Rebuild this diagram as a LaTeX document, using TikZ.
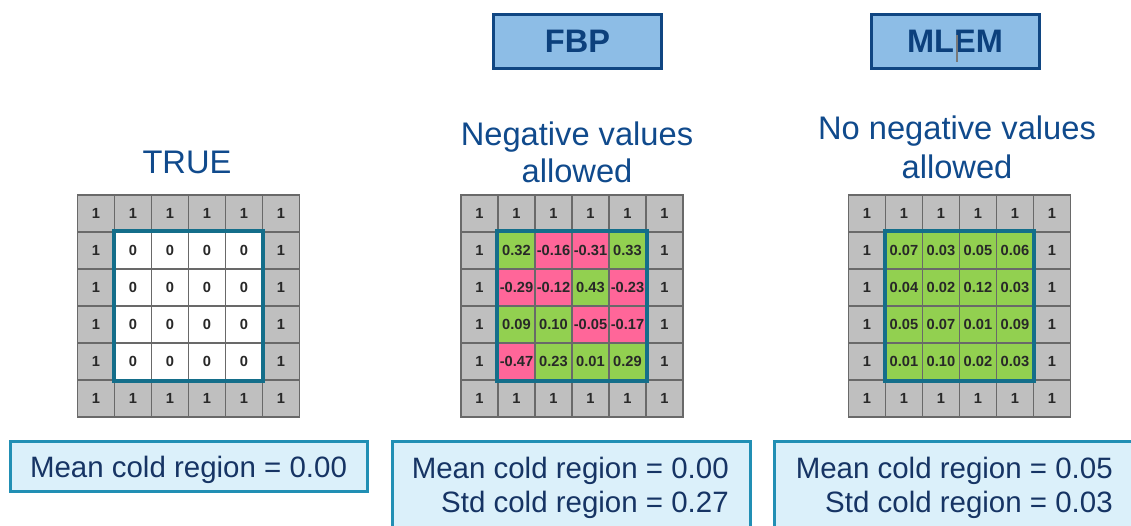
\documentclass[tikz,border=0pt]{standalone}
\usepackage{fontspec}
\setmainfont{Liberation Sans}
\definecolor{titleblue}{RGB}{16,74,140}
\definecolor{hdrtext}{RGB}{12,64,124}
\definecolor{hdrfill}{RGB}{141,189,230}
\definecolor{hdrline}{RGB}{16,70,130}
\definecolor{cellgray}{RGB}{191,191,191}
\definecolor{gridline}{RGB}{105,105,105}
\definecolor{tealline}{RGB}{20,110,138}
\definecolor{gn}{RGB}{146,208,80}
\definecolor{pk}{RGB}{255,102,153}
\definecolor{wt}{RGB}{255,255,255}
\definecolor{statline}{RGB}{33,143,180}
\definecolor{statfill}{RGB}{219,240,250}
\definecolor{stattxt}{RGB}{22,52,100}
\definecolor{celltext}{RGB}{40,40,40}
\definecolor{cursorgray}{RGB}{120,120,120}
\begin{document}
\begin{tikzpicture}[x=0.75pt,y=-0.75pt,
  cellbase/.style={draw=gridline, line width=1.3pt, minimum size=27.75pt, inner sep=0pt,
    font=\fontsize{11}{12}\selectfont\bfseries, text=celltext},
  outercell/.style={cellbase, fill=cellgray},
  innercell/.style={cellbase},
  coldframe/.style={draw=tealline, line width=3pt},
  titletext/.style={text=titleblue, font=\fontsize{24.5}{28}\selectfont, inner sep=0pt},
  hdrbox/.style={draw=hdrline, fill=hdrfill, line width=2.25pt, minimum width=126pt,
    minimum height=40.5pt, text=hdrtext, font=\fontsize{24.4}{28}\selectfont\bfseries},
  statbox/.style={draw=statline, fill=statfill, line width=2.25pt, inner sep=0pt},
  stattext/.style={text=stattxt, font=\fontsize{22.1}{26}\selectfont, inner sep=0pt}
]
\useasboundingbox (0,0) rectangle (1131,525);

% header boxes
\node[hdrbox] (fbp) at (577.5,41.5) {FBP};
\node[hdrbox] (mlem) at (955,41.5) {MLEM};
\coordinate (curtop) at (957,35);
\coordinate (curbot) at (957,62);
\draw[cursorgray, line width=0.8pt] (curtop) -- (curbot);

% titles
\node[titletext, anchor=base] (ttrue) at (187,173) {TRUE};
\node[titletext, anchor=base] (tneg1) at (577,145) {Negative values};
\node[titletext, anchor=base] (tneg2) at (577,182) {allowed};
\node[titletext, anchor=base] (tnon1) at (957,139) {No negative values};
\node[titletext, anchor=base] (tnon2) at (957,178) {allowed};

% inner cells: TRUE
\foreach \r in {2,...,5}{
  \foreach \c in {2,...,5}{
    \node[innercell, fill=wt] (a-\r-\c) at (77.5+\c*37-18.5, 195+\r*37-18.5) {0};
  }
}
% inner cells: FBP
\foreach \v/\f [count=\i from 0] in {0.32/gn,-0.16/pk,-0.31/pk,0.33/gn,
    -0.29/pk,-0.12/pk,0.43/gn,-0.23/pk,
    0.09/gn,0.10/gn,-0.05/pk,-0.17/pk,
    -0.47/pk,0.23/gn,0.01/gn,0.29/gn}{
  \pgfmathtruncatemacro\r{int(\i/4)+2}
  \pgfmathtruncatemacro\c{mod(\i,4)+2}
  \node[innercell, fill=\f] (b-\r-\c) at (461+\c*37-18.5, 195+\r*37-18.5) {\v};
}
% inner cells: MLEM
\foreach \v [count=\i from 0] in {0.07,0.03,0.05,0.06,
    0.04,0.02,0.12,0.03,
    0.05,0.07,0.01,0.09,
    0.01,0.10,0.02,0.03}{
  \pgfmathtruncatemacro\r{int(\i/4)+2}
  \pgfmathtruncatemacro\c{mod(\i,4)+2}
  \node[innercell, fill=gn] (c-\r-\c) at (848.5+\c*37-18.5, 195+\r*37-18.5) {\v};
}

% outer ring cells
\foreach \g/\x in {a/77.5, b/461, c/848.5}{
  \foreach \c in {1,...,6}{
    \node[outercell] (\g-1-\c) at (\x+\c*37-18.5, 195+18.5) {1};
    \node[outercell] (\g-6-\c) at (\x+\c*37-18.5, 195+5*37+18.5) {1};
  }
  \foreach \r in {2,...,5}{
    \node[outercell] (\g-\r-1) at (\x+18.5, 195+\r*37-18.5) {1};
    \node[outercell] (\g-\r-6) at (\x+5*37+18.5, 195+\r*37-18.5) {1};
  }
}

% cold region frames
\draw[coldframe] (a-2-2.north west) rectangle (a-5-5.south east);
\draw[coldframe] (b-2-2.north west) rectangle (b-5-5.south east);
\draw[coldframe] (c-2-2.north west) rectangle (c-5-5.south east);

% stat boxes
\node[statbox, minimum width=267.75pt, minimum height=37.5pt] (box1) at (189,466.5) {};
\node[statbox, minimum width=268.5pt, minimum height=88.9pt] (box2) at (571.5,500.75) {};
\node[statbox, minimum width=274pt, minimum height=88.9pt] (box3) at (957.25,500.75) {};

\node[stattext, anchor=base] (m1) at (188.5,477) {Mean cold region = 0.00};
\node[stattext, anchor=base east] (m2) at (729,478) {Mean cold region = 0.00};
\node[stattext, anchor=base east] (s2) at (729,512) {Std cold region = 0.27};
\node[stattext, anchor=base east] (m3) at (1113,478) {Mean cold region = 0.05};
\node[stattext, anchor=base east] (s3) at (1113,512) {Std cold region = 0.03};
\end{tikzpicture}
\end{document}
